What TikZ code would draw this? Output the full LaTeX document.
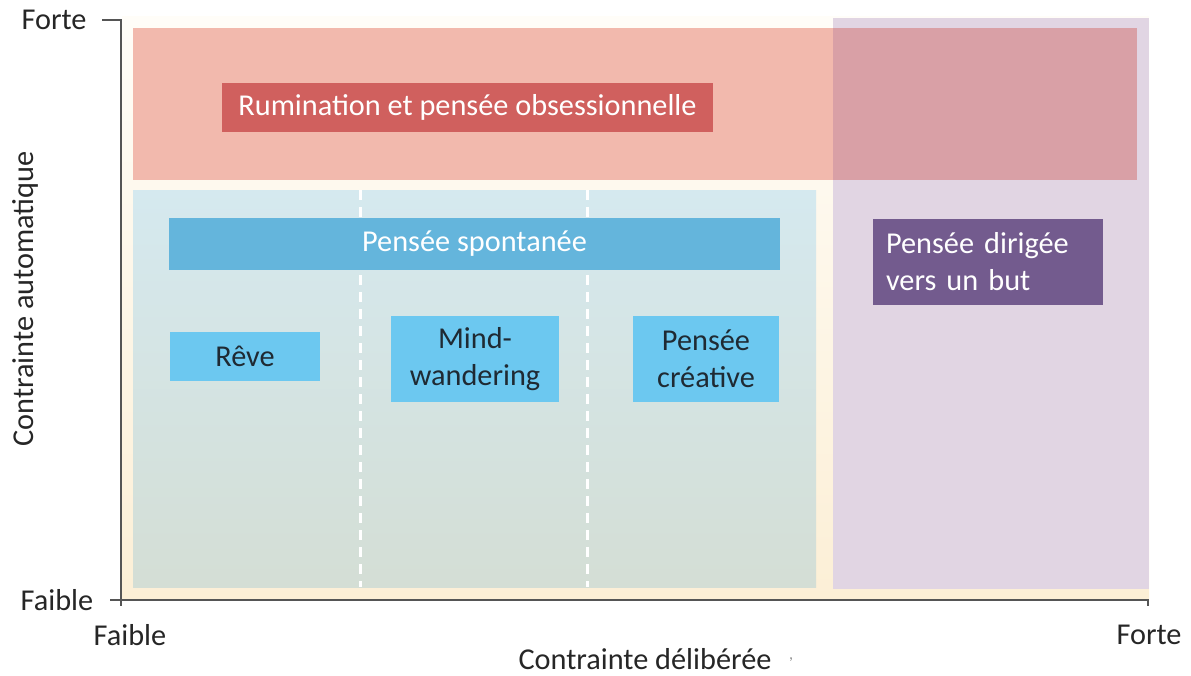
\documentclass[tikz,border=0pt]{standalone}
\usepackage{fontspec}
\setmainfont{Carlito}
\definecolor{cream}{HTML}{FCEFD6}
\definecolor{creamtop}{HTML}{FFFDF8}
\definecolor{salmon}{HTML}{F2B9AD}
\definecolor{overlap}{HTML}{D9A0A6}
\definecolor{lilac}{HTML}{E1D5E3}
\definecolor{bluetop}{HTML}{D5E9EF}
\definecolor{bluebot}{HTML}{D4DED5}
\definecolor{rumred}{HTML}{D0605E}
\definecolor{spontblue}{HTML}{64B5DC}
\definecolor{boxblue}{HTML}{6CC8F0}
\definecolor{dirpurple}{HTML}{735B8E}
\definecolor{darktext}{HTML}{1F2A33}
\definecolor{axisgray}{HTML}{555555}
\begin{document}
\begin{tikzpicture}[x=1pt,y=-1pt,
  lab/.style={font=\fontsize{30.3}{37}\selectfont, text=black!85, inner sep=0pt},
  whitebox/.style={font=\fontsize{30.3}{37}\selectfont, text=white, inner sep=0pt, align=center},
  bluebox/.style={fill=boxblue, font=\fontsize{30.3}{37}\selectfont, text=darktext, inner sep=0pt, align=center},
  sep/.style={white, line width=3pt, dash pattern=on 10pt off 7pt}
]
\useasboundingbox (0,0) rectangle (1191,675);
% background
\shade[top color=creamtop, bottom color=cream] (122,16) rectangle (1149,599);
% regions
\fill[lilac] (833,18) rectangle (1149,589);
\fill[salmon] (133,28) rectangle (833,180);
\fill[overlap] (833,28) rectangle (1137,180);
\shade[top color=bluetop, bottom color=bluebot] (133,190) rectangle (816,587);
\draw[sep] (360,190) -- (360,587);
\draw[sep] (587,190) -- (587,587);
% labels
\node[whitebox, fill=rumred, minimum width=491pt, minimum height=49pt] (rum) at (467.5,107) {Rumination et pensée obsessionnelle};
\node[whitebox, fill=spontblue, minimum width=611pt, minimum height=52pt] (spont) at (474.5,244) {Pensée spontanée};
\node[bluebox, minimum width=150pt, minimum height=49pt] (reve) at (245,356.5) {Rêve};
\node[bluebox, minimum width=168pt, minimum height=86pt] (mind) at (475,359) {Mind-\\wandering};
\node[bluebox, minimum width=146pt, minimum height=86pt] (crea) at (706,359) {Pensée\\créative};
\node[whitebox, fill=dirpurple, minimum width=230pt, minimum height=86pt, align=left, text width=204pt] (dir) at (988,262) {Pensée dirigée\\vers un but};
% axes
\coordinate (ytop) at (121,20);
\coordinate (ytick) at (102,20);
\coordinate (ybot) at (121,606);
\coordinate (xleft) at (110,600);
\coordinate (xright) at (1148,600);
\coordinate (xtick) at (1148,606);
\draw[axisgray, line width=1.2pt] (ytick) -- (ytop) -- (ybot);
\draw[axisgray, line width=1.2pt] (xleft) -- (xright) -- (xtick);
\node[lab] (yforte) at (54,20) {Forte};
\node[lab] (yfaible) at (57,600) {Faible};
\node[lab] (xfaible) at (130,635) {Faible};
\node[lab] (xforte) at (1149,635) {Forte};
\node[lab] (xtitle) at (645,659) {Contrainte délibérée};
\node[lab, text=black!45, font=\fontsize{16}{18}\selectfont] (comma) at (791,660) {,};
\node[lab, rotate=90] (ytitle) at (25,299) {Contrainte automatique};
\end{tikzpicture}
\end{document}
